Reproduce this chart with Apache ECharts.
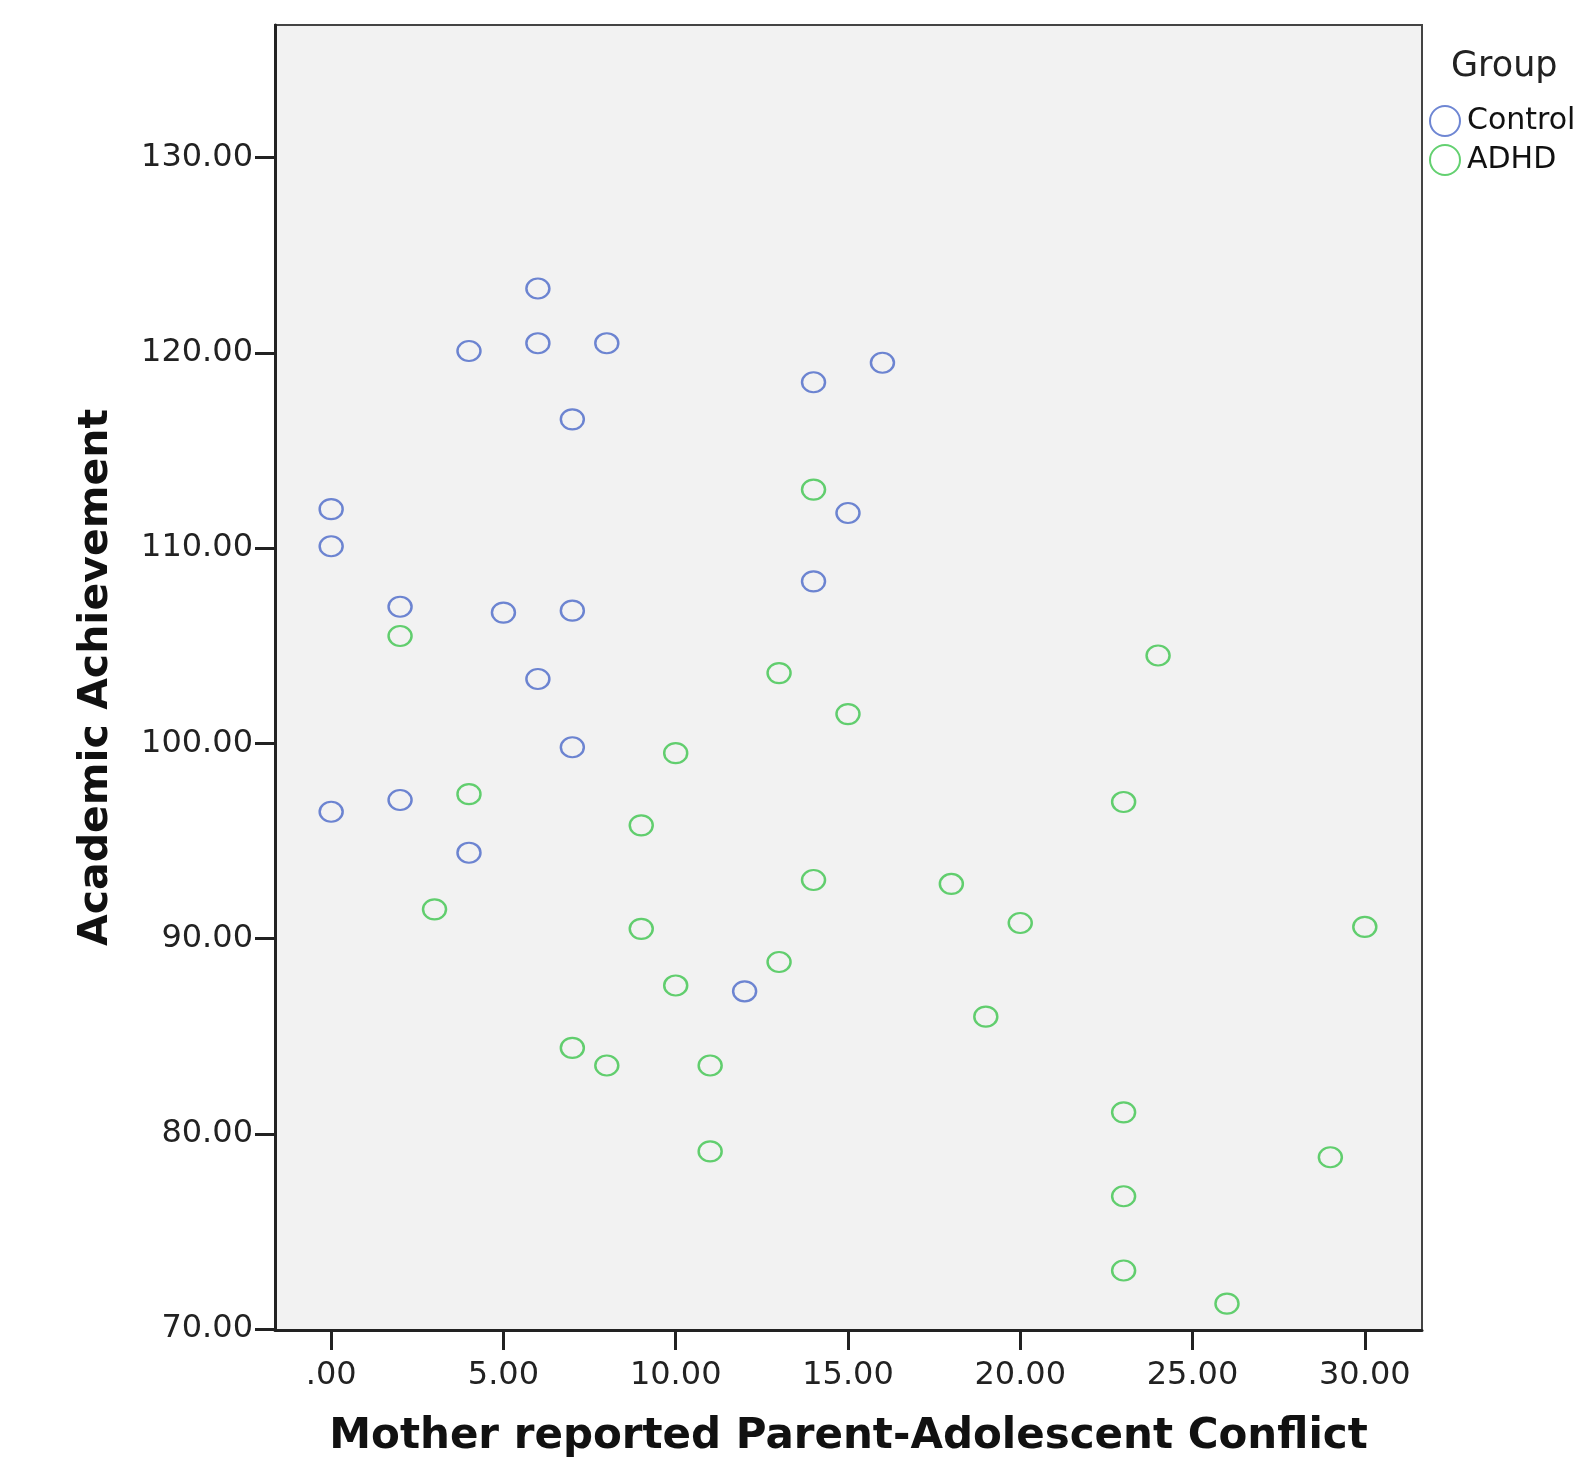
<!DOCTYPE html>
<html>
<head>
<meta charset="utf-8">
<script src="https://cdn.jsdelivr.net/npm/echarts@6/dist/echarts.min.js"></script>
<style>html,body{margin:0;padding:0;background:#fff;}#c{width:1582px;height:1458px;}</style>
</head>
<body>
<div id="c"></div>
<script>
var controlX = [6, 4, 6, 8, 16, 14, 7, 0, 0, 15, 14, 2, 5, 7, 6, 7, 0, 2, 4, 12];
var controlY = [123.3, 120.1, 120.5, 120.5, 119.5, 118.5, 116.6, 112.0, 110.1, 111.8, 108.3, 107.0, 106.7, 106.8, 103.3, 99.8, 96.5, 97.1, 94.4, 87.3];
var adhdX = [14, 2, 24, 13, 15, 10, 4, 23, 9, 14, 18, 3, 20, 30, 9, 13, 10, 19, 7, 8, 11, 23, 11, 29, 23, 23, 26];
var adhdY = [113.0, 105.5, 104.5, 103.6, 101.5, 99.5, 97.4, 97.0, 95.8, 93.0, 92.8, 91.5, 90.8, 90.6, 90.5, 88.8, 87.6, 86.0, 84.4, 83.5, 83.5, 81.1, 79.1, 78.8, 76.8, 73.0, 71.3];
var xTicks = [0, 5, 10, 15, 20, 25, 30];
var yTicks = [70, 80, 90, 100, 110, 120, 130];

function pairs(xs, ys) { return xs.map(function (x, i) { return [x, ys[i]]; }); }
function fmt(v) { var s = Number(v).toFixed(2); return s === '0.00' ? '.00' : s; }

var FONT = 'DejaVu Sans';
var chart = echarts.init(document.getElementById('c'));
chart.setOption({
  animation: false,
  backgroundColor: '#ffffff',
  title: {
    text: 'Group', left: 1446, top: 44,
    textStyle: { fontFamily: FONT, fontSize: 35, fontWeight: 'normal', color: '#222' }
  },
  legend: {
    orient: 'vertical', left: 1424, top: 100,
    itemWidth: 30, itemHeight: 30, itemGap: 7,
    icon: 'circle',
    textStyle: { fontFamily: FONT, fontSize: 30, color: '#111', padding: [0, 0, 0, 2] },
    itemStyle: { borderWidth: 2 },
    data: ['Control', 'ADHD']
  },
  grid: {
    left: 275, top: 25, right: 160, bottom: 128,
    outerBoundsMode: 'none', containLabel: false,
    show: true, backgroundColor: '#f2f2f2', borderColor: '#444', borderWidth: 2
  },
  xAxis: {
    type: 'value', min: -1.63, max: 31.66,
    name: 'Mother reported Parent-Adolescent Conflict',
    nameLocation: 'middle', nameGap: 86,
    nameTextStyle: { fontFamily: FONT, fontSize: 42, fontWeight: 'bold', color: '#111' },
    axisLine: { show: true, onZero: false, lineStyle: { color: '#222', width: 3 } },
    axisTick: { show: true, length: 20, customValues: xTicks, lineStyle: { color: '#222', width: 3 } },
    axisLabel: { customValues: xTicks, formatter: fmt, margin: 30, fontFamily: FONT, fontSize: 32, color: '#222' },
    splitLine: { show: false }
  },
  yAxis: {
    type: 'value', min: 69.95, max: 136.8,
    name: 'Academic Achievement',
    nameLocation: 'middle', nameGap: 158,
    nameTextStyle: { fontFamily: FONT, fontSize: 41, fontWeight: 'bold', color: '#111' },
    axisLine: { show: true, onZero: false, lineStyle: { color: '#222', width: 3 } },
    axisTick: { show: true, length: 20, customValues: yTicks, lineStyle: { color: '#222', width: 3 } },
    axisLabel: { customValues: yTicks, formatter: fmt, margin: 22, fontFamily: FONT, fontSize: 32, color: '#222' },
    splitLine: { show: false }
  },
  series: [
    {
      name: 'Control', type: 'scatter', data: pairs(controlX, controlY),
      symbol: 'circle', symbolSize: [23, 20],
      itemStyle: { color: 'rgba(0,0,0,0)', borderColor: '#4a68c8', borderWidth: 2.3 }
    },
    {
      name: 'ADHD', type: 'scatter', data: pairs(adhdX, adhdY),
      symbol: 'circle', symbolSize: [23, 20],
      itemStyle: { color: 'rgba(0,0,0,0)', borderColor: '#3cc44c', borderWidth: 2.3 }
    }
  ]
});
</script>
</body>
</html>
